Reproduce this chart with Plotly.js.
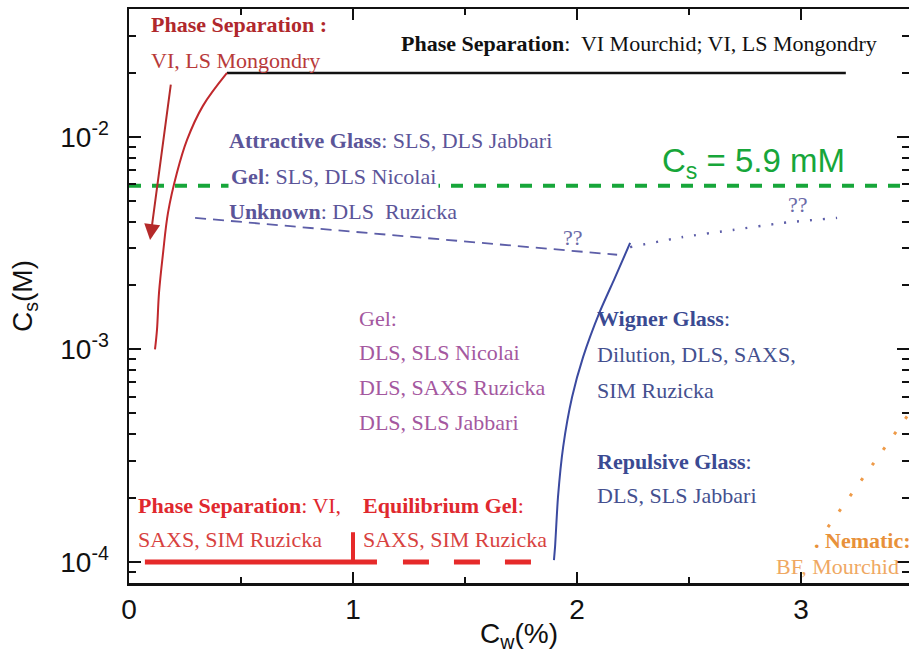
<!DOCTYPE html>
<html>
<head>
<meta charset="utf-8">
<script src="https://cdn.plot.ly/plotly-3.0.1.min.js"></script>
<style>html,body{margin:0;padding:0;background:#fff;}#chart{width:909px;height:659px;}</style>
</head>
<body>
<div id="chart"></div>
<script>
// ---- data (Cw in %, Cs in M) ----
const redCurveCw = [0.4375, 0.33, 0.259, 0.214, 0.174, 0.152, 0.134, 0.125, 0.116];
const redCurveCs = [0.0200, 0.0140, 0.00968, 0.00678, 0.00439, 0.00284, 0.00185, 0.00124, 0.0010];
const blackLineCw = [0.4375, 3.2];
const blackLineCs = [0.02, 0.02];
const greenLineCw = [0, 3.5];
const greenLineCs = [0.0059, 0.0059];
const unknownCw = [0.295, 2.179];
const unknownCs = [0.00416, 0.00279];
const dottedCw = [2.237, 2.473, 2.696, 2.92, 3.161];
const dottedCs = [0.00303, 0.00338, 0.00365, 0.00394, 0.00416];
const wignerCw = [1.897, 1.902, 1.915, 1.938, 1.978, 2.027, 2.100, 2.168, 2.237];
const wignerCs = [1.02e-4, 1.18e-4, 2.02e-4, 3.47e-4, 5.97e-4, 9.2e-4, 1.49e-3, 2.16e-3, 3.17e-3];
const phaseSepCw = [0.071, 1.107];
const phaseSepCs = [1e-4, 1e-4];
const eqGelCw = [1.223, 1.80];
const eqGelCs = [1e-4, 1e-4];
const markCw = [1, 1];
const markCs = [1e-4, 1.38e-4];
const nematicCw = [3.12, 3.5];
const nematicCs = [1.46e-4, 5.3e-4];
const arrowTail = [0.1875, 0.0179];
const arrowHead = [0.094, 0.00327];
const yTickVals = [1e-4, 1e-3, 1e-2];
const yTickText = ['10<sup>-4</sup>', '10<sup>-3</sup>', '10<sup>-2</sup>'];
const yMinorVals = [9e-5, 2e-4, 3e-4, 4e-4, 5e-4, 6e-4, 7e-4, 8e-4, 9e-4,
  2e-3, 3e-3, 4e-3, 5e-3, 6e-3, 7e-3, 8e-3, 9e-3, 2e-2, 3e-2];
const xTickVals = [0, 1, 2, 3];

const L = Math.log10;
function tr(x, y, color, width, dash, shape, smooth) {
  const line = {color: color, width: width, dash: dash || 'solid', shape: shape || 'linear'};
  if (smooth !== undefined) line.smoothing = smooth;
  return {x: x, y: y, type: 'scatter', mode: 'lines', hoverinfo: 'skip', line: line};
}
const traces = [
  tr(greenLineCw, greenLineCs, '#17a63a', 4, '12px,11px'),
  tr(blackLineCw, blackLineCs, '#111111', 2.5),
  tr(redCurveCw, redCurveCs, '#c0282c', 2, 'solid', 'spline', 1),
  tr(unknownCw, unknownCs, '#5d5ea8', 1.8, '11px,7px'),
  tr(dottedCw, dottedCs, '#5d5ea8', 2.4, '2px,11px', 'spline', 0.6),
  tr(wignerCw, wignerCs, '#3b4aa0', 2, 'solid', 'spline', 0.6),
  tr(phaseSepCw, phaseSepCs, '#e62a2a', 5),
  tr(eqGelCw, eqGelCs, '#e62a2a', 5, '26px,25px'),
  tr(markCw, markCs, '#e62a2a', 4),
  tr(nematicCw, nematicCs, '#ee9a48', 3, '3px,16px')
];

const SERIF = 'Liberation Serif, Times New Roman, serif';
function lab(x, ylog, text, color, extra) {
  return Object.assign({x: x, y: ylog, xref: 'x', yref: 'y', text: text, showarrow: false,
    xanchor: 'left', yanchor: 'middle', borderpad: 0,
    font: {family: SERIF, size: 22, color: color}}, extra || {});
}
const slate = '#5b5599', mag = '#a4589f', wig = '#3a4a92', red = '#e0282e', dred = '#b0282c';
const annotations = [
  lab(0.094, -1.473, '<b>Phase Separation :</b>', dred),
  lab(0.094, -1.638, 'VI, LS Mongondry', '#b83a3a'),
  lab(1.210, -1.562, '<b>Phase Separation</b>:  VI Mourchid; VI, LS Mongondry', '#111111'),
  lab(0.442, -2.019, '<b>Attractive Glass</b>: SLS, DLS Jabbari', slate),
  lab(0.442, -2.188, '<b>Gel</b>: SLS, DLS Nicolai', slate, {bgcolor: '#ffffff', borderpad: 2}),
  lab(0.442, -2.353, '<b>Unknown</b>: DLS  Ruzicka', slate),
  lab(1.022, -2.852, 'Gel:', mag),
  lab(1.022, -3.016, 'DLS, SLS Nicolai', mag),
  lab(1.022, -3.181, 'DLS, SAXS Ruzicka', mag),
  lab(1.022, -3.346, 'DLS, SLS Jabbari', mag),
  lab(2.085, -2.856, '<b>Wigner Glass</b>:', wig),
  lab(2.085, -3.026, 'Dilution, DLS, SAXS,', '#44508f'),
  lab(2.085, -3.191, 'SIM Ruzicka', '#44508f'),
  lab(2.085, -3.525, '<b>Repulsive Glass</b>:', wig),
  lab(2.085, -3.689, 'DLS, SLS Jabbari', '#44508f'),
  lab(0.036, -3.732, '<b>Phase Separation</b>: VI,', red),
  lab(0.036, -3.892, 'SAXS, SIM Ruzicka', '#d8423f'),
  lab(1.040, -3.732, '<b>Equilibrium Gel</b>:', red),
  lab(1.040, -3.892, 'SAXS, SIM Ruzicka', '#d8423f'),
  lab(3.055, -3.901, '<b>. Nematic:</b>', '#e8913a'),
  lab(2.884, -4.019, 'BF, Mourchid', '#efa862'),
  lab(1.982, -2.471, '??', '#6a6aa8', {xanchor: 'center'}),
  lab(2.987, -2.320, '??', '#6a6aa8', {xanchor: 'center'}),
  {x: 2.371, y: -2.122, xref: 'x', yref: 'y', text: 'C<sub>s</sub> = 5.9 mM', showarrow: false,
    xanchor: 'left', yanchor: 'middle', font: {family: 'Liberation Sans, Arial, sans-serif', size: 33, color: '#17a63a'}},
  {x: arrowHead[0], y: L(arrowHead[1]), ax: arrowTail[0], ay: L(arrowTail[1]),
    xref: 'x', yref: 'y', axref: 'x', ayref: 'y', text: '', showarrow: true,
    arrowhead: 2, arrowsize: 1.6, arrowwidth: 2, arrowcolor: '#b52a2a'}
];

const SANS = 'Liberation Sans, Arial, sans-serif';
const layout = {
  width: 909, height: 659,
  margin: {l: 129, r: 0, t: 9, b: 76},
  paper_bgcolor: '#ffffff', plot_bgcolor: '#ffffff',
  showlegend: false,
  xaxis: {
    range: [0, 3.482], tickvals: xTickVals, ticktext: xTickVals.map(String),
    ticks: 'inside', ticklen: 11, tickwidth: 2, tickcolor: '#111',
    showline: true, linewidth: 2.5, linecolor: '#111', mirror: 'ticks',
    showgrid: false, zeroline: false,
    minor: {dtick: 0.5, tick0: 0, ticks: 'inside', ticklen: 6, tickwidth: 2, tickcolor: '#111', showgrid: false},
    tickfont: {family: SANS, size: 28, color: '#111'}, ticklabelstandoff: 0,
    title: {text: 'C<sub>w</sub>(%)', font: {family: SANS, size: 28, color: '#111'}, standoff: 0}
  },
  yaxis: {
    type: 'log', range: [-4.099, -1.398],
    tickvals: yTickVals, ticktext: yTickText,
    ticks: 'inside', ticklen: 12, tickwidth: 2, tickcolor: '#111',
    showline: true, linewidth: 2.5, linecolor: '#111', mirror: 'ticks',
    showgrid: false, zeroline: false,
    minor: {tickvals: yMinorVals, ticks: 'inside', ticklen: 7, tickwidth: 2, tickcolor: '#111', showgrid: false},
    tickfont: {family: SANS, size: 28, color: '#111'}, ticklabelstandoff: 12,
    title: {text: 'C<sub>s</sub>(M)', font: {family: SANS, size: 28, color: '#111'}, standoff: 20}
  },
  annotations: annotations
};
Plotly.newPlot('chart', traces, layout, {staticPlot: true, displayModeBar: false});
</script>
</body>
</html>
